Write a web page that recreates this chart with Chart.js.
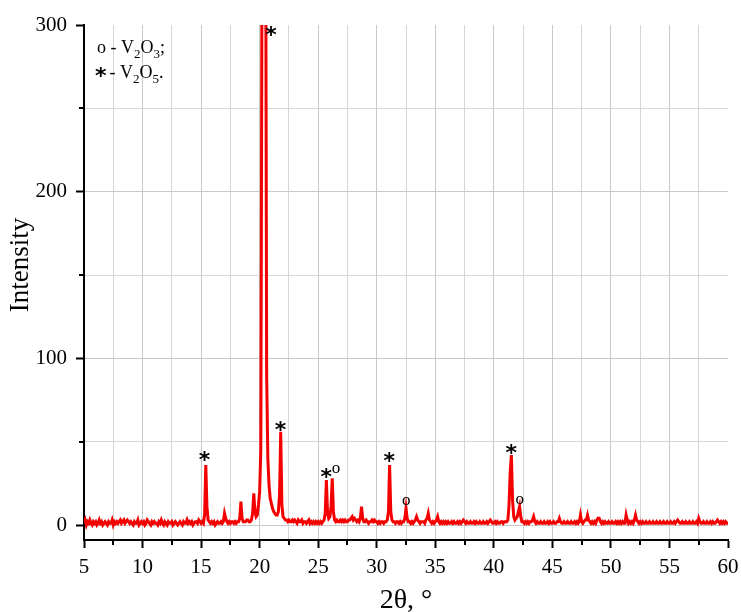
<!DOCTYPE html>
<html>
<head>
<meta charset="utf-8">
<title>XRD pattern</title>
<script src="https://cdn.jsdelivr.net/npm/chart.js@4.4.1/dist/chart.umd.min.js"></script>
<style>
  html, body { margin: 0; padding: 0; background: #fff; }
  #wrap { width: 741px; height: 612px; position: relative; }
</style>
</head>
<body>
<div id="wrap"><canvas id="xrd"></canvas></div>
<script>
'use strict';

// ***** DATA *****
// scan: 2theta from 5 to 60 deg, step 0.1
const scanStart = 5;
const scanStep = 0.1;
const intensity = [
  1,3,0,2,1,3,1,0,2,1,
  2,0,1,3,1,2,0,1,2,1,
  0,2,1,1,3,0,2,1,2,1,
  2,3,1,2,3,1,2,3,2,1,
  2,1,0,2,1,1,3,0,1,2,
  1,2,0,1,3,2,1,0,2,1,
  2,1,1,0,2,1,3,1,0,2,
  1,0,2,1,1,2,0,1,2,1,
  0,1,2,1,0,2,1,1,3,1,
  2,1,2,0,1,2,2,1,3,2,
  1,2,1,6,36,11,3,2,1,2,
  1,2,0,1,2,1,1,2,1,2,
  7,4,2,1,2,1,2,2,1,2,
  1,2,2,4,14,4,2,2,2,3,
  3,2,2,3,7,19,8,5,6,12,
  20,45,330,720,800,420,90,40,24,16,
  13,10,8,7,6,6,8,18,56,12,
  5,4,3,3,2,3,2,2,3,2,
  3,2,1,3,2,2,3,1,2,2,
  1,2,3,1,2,1,2,1,2,1,
  2,1,2,1,2,3,7,27,7,4,
  5,11,28,8,3,2,3,2,2,3,
  2,3,2,3,2,2,3,3,4,5,
  3,4,3,2,3,2,4,11,4,2,
  2,3,2,1,2,2,3,2,3,2,
  2,1,2,1,2,2,1,2,2,3,
  8,36,8,3,2,2,1,2,2,1,
  2,1,2,2,4,10,4,2,2,1,
  2,1,2,3,5,3,2,1,2,2,
  2,1,3,4,7,3,2,1,2,1,
  2,3,5,2,1,2,1,2,1,2,
  1,2,1,1,2,1,2,1,1,2,
  1,2,1,2,3,2,1,2,1,1,
  2,1,1,2,1,2,1,1,2,1,
  1,2,1,1,2,1,2,3,2,1,
  1,2,1,2,1,1,2,2,1,2,
  2,2,3,12,32,42,15,5,3,4,
  5,8,11,5,2,2,1,2,1,2,
  1,2,2,3,5,2,1,2,1,1,
  2,1,1,2,1,1,2,1,2,1,
  1,2,1,1,2,2,4,2,1,1,
  2,1,1,2,1,1,2,1,1,2,
  1,2,1,2,6,2,1,2,3,3,
  6,3,2,1,2,1,2,1,3,4,
  4,2,1,2,1,2,1,1,2,1,
  1,2,1,1,2,1,2,1,2,1,
  2,1,1,6,3,1,2,1,2,1,
  3,6,3,2,1,2,1,2,1,1,
  2,1,1,2,1,1,2,1,1,2,
  1,1,2,1,1,2,1,1,2,1,
  1,2,1,1,2,1,2,3,2,1,
  1,2,1,1,2,1,1,2,1,1,
  2,1,1,2,1,4,2,1,1,2,
  1,1,2,1,1,2,1,2,1,1,
  2,3,2,1,2,1,2,1,2,1,
  1
];

// phase marks: symbol and the peak (2theta) it belongs to
const markSymbols = ['*', '*', '*', '*', 'o', '*', 'o', '*', 'o'];
const markAngles = [15.4, 20.4, 21.8, 25.7, 26.2, 31.1, 32.5, 41.5, 42.2];

const xTicks = [5, 7.5, 10, 12.5, 15, 17.5, 20, 22.5, 25, 27.5, 30, 32.5, 35, 37.5, 40, 42.5, 45, 47.5, 50, 52.5, 55, 57.5, 60];
const yTicks = [0, 50, 100, 150, 200, 250, 300];

// ***** STYLE *****
const serif = "'Liberation Serif', 'Times New Roman', serif";
const starFont = "bold 22px 'DejaVu Sans', sans-serif";
const lineRed = '#f40000';
const gridMajor = '#c9c9c9';
const gridMinor = '#d6d6d6';
// label nudges in px: [dx, lift above peak top]
const markShift = [[-1, 8], [7, -7], [0, 5], [0, 6], [3.5, 8], [0, 7], [0, 6], [0, 5], [0, 5.5]];

// ***** HELPERS *****
function isMajorX(v){ return Math.abs(v % 5) < 1e-6; }
function isMajorY(v){ return v % 100 === 0; }

function peakValue(angle){
  return intensity[Math.round((angle - scanStart) / scanStep)];
}

const points = intensity.map((v, i) => ({ x: +(scanStart + i * scanStep).toFixed(1), y: v }));

function drawCentered(ctx, text, cx, cy){
  const m = ctx.measureText(text);
  const w = m.actualBoundingBoxRight + m.actualBoundingBoxLeft;
  const h = m.actualBoundingBoxAscent + m.actualBoundingBoxDescent;
  ctx.fillText(text, cx - w / 2 + m.actualBoundingBoxLeft, cy - h / 2 + m.actualBoundingBoxAscent);
}

// text runs with subscripts: [text, isSub]
function drawRuns(ctx, runs, x, baseline){
  for (const [txt, sub] of runs){
    ctx.font = sub ? `13px ${serif}` : `18px ${serif}`;
    ctx.fillText(txt, x, baseline + (sub ? 5 : 0));
    x += ctx.measureText(txt).width;
  }
}

// ***** PLUGIN: minor ticks, y title, legend, peak marks *****
const extras = {
  id: 'extras',
  afterDraw(chart){
    const { ctx, scales: { x, y } } = chart;
    ctx.save();
    ctx.strokeStyle = '#000';
    ctx.lineWidth = 2;
    ctx.beginPath();
    xTicks.filter(v => !isMajorX(v)).forEach(v => {
      const px = Math.round(x.getPixelForValue(v));
      ctx.moveTo(px, y.bottom); ctx.lineTo(px, y.bottom + 5);
    });
    yTicks.filter(v => !isMajorY(v)).forEach(v => {
      const py = Math.round(y.getPixelForValue(v));
      ctx.moveTo(x.left, py); ctx.lineTo(x.left - 5, py);
    });
    ctx.stroke();

    ctx.fillStyle = '#000';
    // axis title
    ctx.save();
    ctx.translate(21, 265);
    ctx.rotate(-Math.PI / 2);
    ctx.font = `27px ${serif}`;
    ctx.textAlign = 'center';
    ctx.textBaseline = 'middle';
    ctx.fillText('Intensity', 0, 0);
    ctx.restore();

    // legend
    ctx.textAlign = 'left';
    ctx.textBaseline = 'alphabetic';
    drawRuns(ctx, [['o - V', false], ['2', true], ['O', false], ['3', true], [';', false]], 97, 53);
    ctx.font = starFont;
    drawCentered(ctx, '*', 101, 72);
    drawRuns(ctx, [[' - V', false], ['2', true], ['O', false], ['5', true], ['.', false]], 105, 78);

    // peak marks
    markSymbols.forEach((sym, i) => {
      const top = Math.min(peakValue(markAngles[i]), y.max);
      const cx = x.getPixelForValue(markAngles[i]) + markShift[i][0];
      const cy = y.getPixelForValue(top) - markShift[i][1] - 1;
      ctx.font = sym === '*' ? starFont : `17px ${serif}`;
      drawCentered(ctx, sym, cx, cy);
    });
    ctx.restore();
  }
};

// ***** CHART *****
new Chart(document.getElementById('xrd'), {
  type: 'line',
  data: {
    datasets: [{
      data: points,
      borderColor: lineRed,
      borderWidth: 3,
      pointRadius: 0,
      tension: 0,
      fill: false
    }]
  },
  options: {
    responsive: true,
    maintainAspectRatio: false,
    animation: false,
    events: [],
    layout: { padding: { top: 25, right: 13, left: 0, bottom: 0 } },
    plugins: { legend: { display: false }, tooltip: { enabled: false } },
    scales: {
      x: {
        type: 'linear',
        min: 5,
        max: 60,
        afterBuildTicks: s => { s.ticks = xTicks.map(v => ({ value: v })); },
        afterFit: s => { s.height = 72; s.paddingLeft = 0; s.paddingRight = 0; },
        ticks: {
          autoSkip: false,
          maxRotation: 0,
          padding: 7,
          color: '#000',
          font: { family: serif, size: 21 },
          callback: v => isMajorX(v) ? String(v) : ''
        },
        grid: {
          color: c => (c.tick && (c.tick.value === 5 || c.tick.value === 60)) ? 'rgba(0,0,0,0)' : (c.tick && isMajorX(c.tick.value) ? gridMajor : gridMinor),
          borderDash: c => (c.tick && isMajorX(c.tick.value)) ? [] : [3, 3],
          lineWidth: 1,
          tickLength: 8,
          tickWidth: 2,
          tickColor: c => (c.tick && isMajorX(c.tick.value)) ? '#000' : 'rgba(0,0,0,0)'
        },
        border: { display: true, color: '#000', width: 2 },
        title: {
          display: true,
          text: '2θ, °',
          color: '#000',
          font: { family: serif, size: 28 },
          padding: { top: 0, bottom: -5 }
        }
      },
      y: {
        type: 'linear',
        min: -9,
        max: 300,
        afterBuildTicks: s => { s.ticks = yTicks.map(v => ({ value: v })); },
        afterFit: s => { s.width = 84; s.paddingTop = 0; s.paddingBottom = 0; },
        ticks: {
          padding: 9,
          color: '#000',
          font: { family: serif, size: 21 },
          callback: v => isMajorY(v) ? String(v) : ''
        },
        grid: {
          color: c => (c.tick && c.tick.value === 300) ? 'rgba(0,0,0,0)' : (c.tick && isMajorY(c.tick.value) ? gridMajor : gridMinor),
          borderDash: c => (c.tick && isMajorY(c.tick.value)) ? [] : [3, 3],
          lineWidth: 1,
          tickLength: 8,
          tickWidth: 2,
          tickColor: c => (c.tick && isMajorY(c.tick.value)) ? '#000' : 'rgba(0,0,0,0)'
        },
        border: { display: true, color: '#000', width: 2 }
      }
    }
  },
  plugins: [extras]
});
</script>
</body>
</html>
